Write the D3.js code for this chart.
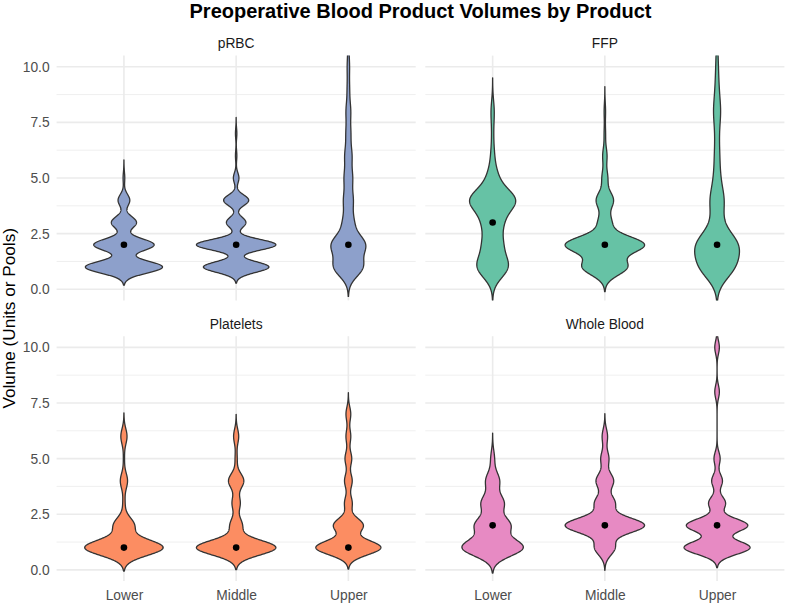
<!DOCTYPE html>
<html>
<head>
<meta charset="utf-8">
<script src="https://cdn.jsdelivr.net/npm/d3@7"></script>
<style>
  body { margin: 0; background: #fff; }
  text { font-family: "Liberation Sans", Arial, sans-serif; }
</style>
</head>
<body>
<svg id="chart" width="785" height="603"></svg>
<script>
const products = ["pRBC", "FFP", "Platelets", "Whole Blood"];
const groups = ["Lower", "Middle", "Upper"];

// patient counts at volume 1, 2, 3, ... for Lower / Middle / Upper
const prbcCounts = [[46, 36, 15, 7, 1], [47, 57, 14, 18, 4, 1, 1], [25, 29, 9, 8, 7, 6, 4, 4, 2, 2, 1, 1]];
const ffpCounts = [[19, 11, 11, 28, 6, 2, 1, 2], [31, 55, 9, 12, 4, 3, 1, 1], [30, 36, 7, 12, 5, 4, 3, 6, 3, 2, 1]];
const plateletCounts = [[76, 20, 2, 7, 1, 6], [78, 12, 8, 15, 2, 5], [68, 31, 8, 8, 7, 5, 5]];
const wholeBloodCounts = [[49, 28, 18, 11, 3], [15, 59, 15, 13, 6, 4], [43, 40, 11, 7, 4, 0, 0, 3, 0, 3]];
// kernel bandwidth of each violin
const bandwidths = [[0.27, 0.24, 0.44], [0.5, 0.37, 0.58], [0.35, 0.33, 0.32], [0.38, 0.34, 0.3]];

const yTicks = [0, 2.5, 5, 7.5, 10];
const yMinorTicks = [1.25, 3.75, 6.25, 8.75];
const productColors = ["#8DA0CB", "#66C2A5", "#FC8D62", "#E78AC3"];

const allCounts = [prbcCounts, ffpCounts, plateletCounts, wholeBloodCounts];

const svg = d3.select("#chart");
const panelW = 359.1, panelH = 244.8;
const panelX = [56.6, 425.3], panelY = [55.6, 336.2];

// gaussian kernel density over integer volumes
function violinDensity(counts, bw) {
    const vols = counts.map((c, i) => i + 1);
    const n = d3.sum(counts);
    const used = vols.filter((v, i) => counts[i] > 0);
    const lo = d3.min(used) - 3 * bw, hi = d3.max(used) + 3 * bw;
    return d3.range(512).map(k => {
        const yv = lo + (hi - lo) * k / 511;
        let s = 0;
        counts.forEach((c, i) => {
            const z = (yv - vols[i]) / bw;
            s += c * Math.exp(-0.5 * z * z);
        });
        return [yv, s / (n * bw * Math.sqrt(2 * Math.PI))];
    });
}

svg.append("text")
    .attr("x", (panelX[0] + panelX[1] + panelW) / 2)
    .attr("y", 18)
    .attr("text-anchor", "middle")
    .attr("font-size", "20px")
    .attr("font-weight", "bold")
    .attr("fill", "#000")
    .text("Preoperative Blood Product Volumes by Product");

svg.append("text")
    .attr("transform", "translate(15," + ((panelY[0] + panelY[1] + panelH) / 2) + ") rotate(-90)")
    .attr("text-anchor", "middle")
    .attr("font-size", "17.2px")
    .attr("fill", "#000")
    .text("Volume (Units or Pools)");

products.forEach((prod, p) => {
    const col = p % 2, row = Math.floor(p / 2);
    const left = panelX[col], top = panelY[row];

    const x = d3.scalePoint().domain(groups).range([left, left + panelW]).padding(0.6);
    const y = d3.scaleLinear().domain([-0.5, 10.5]).range([top + panelH, top]);

    const g = svg.append("g");

    // grid
    g.selectAll(".minor").data(yMinorTicks).enter().append("line")
        .attr("x1", left).attr("x2", left + panelW)
        .attr("y1", d => y(d)).attr("y2", d => y(d))
        .attr("stroke", "#EBEBEB").attr("stroke-width", 0.8);
    g.selectAll(".major").data(yTicks).enter().append("line")
        .attr("x1", left).attr("x2", left + panelW)
        .attr("y1", d => y(d)).attr("y2", d => y(d))
        .attr("stroke", "#EBEBEB").attr("stroke-width", 1.6);
    g.selectAll(".vgrid").data(groups).enter().append("line")
        .attr("x1", d => x(d)).attr("x2", d => x(d))
        .attr("y1", top).attr("y2", top + panelH)
        .attr("stroke", "#EBEBEB").attr("stroke-width", 1.6);

    // strip label
    g.append("text")
        .attr("x", left + panelW / 2)
        .attr("y", top - 7.6)
        .attr("text-anchor", "middle")
        .attr("font-size", "13.8px")
        .attr("fill", "#1A1A1A")
        .text(prod);

    const clipId = "clip" + p;
    svg.append("clipPath").attr("id", clipId).append("rect")
        .attr("x", left).attr("y", top).attr("width", panelW).attr("height", panelH);

    const dens = groups.map((grp, i) => violinDensity(allCounts[p][i], bandwidths[p][i]));
    const maxD = d3.max(dens, d => d3.max(d, e => e[1]));
    const w = d3.scaleLinear().domain([0, maxD]).range([0, x.step() * 0.354]);

    const vg = g.append("g").attr("clip-path", "url(#" + clipId + ")");
    groups.forEach((grp, i) => {
        const area = d3.area()
            .y(d => y(d[0]))
            .x0(d => x(grp) - w(d[1]))
            .x1(d => x(grp) + w(d[1]));
        vg.append("path")
            .datum(dens[i])
            .attr("d", area)
            .attr("fill", productColors[p])
            .attr("stroke", "#333333")
            .attr("stroke-width", 1.3)
            .attr("stroke-linejoin", "round");

        const raw = allCounts[p][i].flatMap((c, k) => d3.range(c).map(() => k + 1));
        vg.append("circle")
            .attr("cx", x(grp))
            .attr("cy", y(d3.median(raw)))
            .attr("r", 3.3)
            .attr("fill", "#000");
    });

    if (col === 0) {
        const ya = g.append("g")
            .attr("transform", "translate(" + left + ",0)")
            .call(d3.axisLeft(y).tickValues(yTicks).tickFormat(d3.format(".1f")).tickSize(0).tickPadding(7));
        ya.select(".domain").remove();
        ya.selectAll("text").attr("font-size", "13.8px").attr("fill", "#4D4D4D").attr("font-family", null);
    }
    if (row === 1) {
        const xa = g.append("g")
            .attr("transform", "translate(0," + (top + panelH) + ")")
            .call(d3.axisBottom(x).tickSize(0).tickPadding(9.6));
        xa.select(".domain").remove();
        xa.selectAll("text").attr("font-size", "13.8px").attr("fill", "#4D4D4D").attr("font-family", null);
    }
});
</script>
</body>
</html>
